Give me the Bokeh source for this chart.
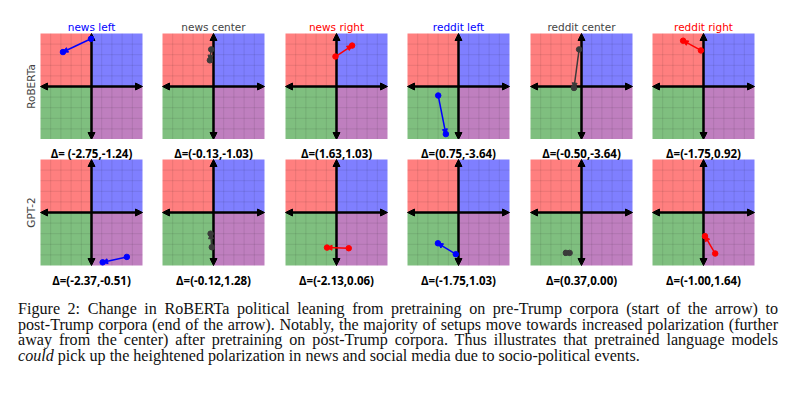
import math
from bokeh.plotting import figure
from bokeh.layouts import column, row
from bokeh.models import Arrow, NormalHead, Label, ColumnDataSource, Div
from bokeh.embed import file_html
from bokeh.resources import INLINE

# ---------------- data ----------------
setups = ["news left", "news center", "news right",
          "reddit left", "reddit center", "reddit right"]
models = ["RoBERTa", "GPT-2"]

# political compass position (economic x, social y), pre-Trump (start) -> post-Trump (end)
roberta_start_x = [-0.1, -0.45, -0.2, -3.98, -0.47, -0.5]
roberta_start_y = [9.0, 7.0, 5.66, -1.7, 7.0, 6.8]
roberta_end_x = [-5.6, -0.71, 3.06, -2.48, -1.47, -4.0]
roberta_end_y = [6.5, 4.94, 7.72, -8.98, -0.28, 8.64]

gpt2_start_x = [6.93, -0.33, 2.4, -0.53, -3.07, 2.29]
gpt2_start_y = [-8.38, -6.55, -6.74, -7.87, -7.62, -7.74]
gpt2_end_x = [2.19, -0.57, -1.86, -4.03, -2.33, 0.29]
gpt2_end_y = [-9.4, -3.99, -6.62, -5.81, -7.62, -4.46]

roberta_delta = ["Δ= (-2.75,-1.24)", "Δ=(-0.13,-1.03)", "Δ=(1.63,1.03)",
                 "Δ=(0.75,-3.64)", "Δ=(-0.50,-3.64)", "Δ=(-1.75,0.92)"]
gpt2_delta = ["Δ=(-2.37,-0.51)", "Δ=(-0.12,1.28)", "Δ=(-2.13,0.06)",
              "Δ=(-1.75,1.03)", "Δ=(0.37,0.00)", "Δ=(-1.00,1.64)"]

caption_lines = [
    "Figure 2: Change in RoBERTa political leaning from pretraining on pre-Trump corpora (start of the arrow) to",
    "post-Trump corpora (end of the arrow). Notably, the majority of setups move towards increased polarization (further",
    "away from the center) after pretraining on post-Trump corpora. Thus illustrates that pretrained language models",
    "<i>could</i> pick up the heightened polarization in news and social media due to socio-political events.",
]

# ---------------- style ----------------
LIM = 10
grid_ticks = [-8, -6, -4, -2, 2, 4, 6, 8]
title_colors = ["#0000ff", "#444444", "#ff0000", "#0000ff", "#444444", "#ff0000"]
line_colors = ["#0000ff", "#3a3a3a", "#ff0000", "#0000ff", "#3a3a3a", "#ff0000"]
quad_colors = ["#ff0000", "#0000ff", "#008000", "#800080"]  # TL, TR, BL, BR

# compass box (102 x 106 px) and the empty space around it inside each cell
CW, CH = 102, 106
cell_pad_left = [40, 10, 11, 10, 11, 10]
cell_pad_right = 10
row_pad = [(33, 0), (20, 25)]  # (top, bottom) per row
PX_X = CW / (2 * LIM)
PX_Y = CH / (2 * LIM)

DELTA_STYLE = dict(text_align="center", text_baseline="alphabetic", text_font="Open Sans",
                   text_font_style="bold", text_font_size="11.5px", text_color="black")


def panel(i, r, sx, sy, ex, ey, delta, title=None, row_label=None, prev_delta=None):
    pl, pr = cell_pad_left[i], cell_pad_right
    pt, pb = row_pad[r]
    p = figure(width=CW + pl + pr, height=CH + pt + pb,
               x_range=(-LIM - pl / PX_X, LIM + pr / PX_X),
               y_range=(-LIM - pb / PX_Y, LIM + pt / PX_Y),
               x_axis_type=None, y_axis_type=None, toolbar_location=None,
               output_backend="svg", min_border=0, outline_line_color=None,
               background_fill_color="white", border_fill_color="white")
    # quadrants
    p.quad(left=[-LIM, 0, -LIM, 0], right=[0, LIM, 0, LIM],
           bottom=[0, 0, -LIM, -LIM], top=[LIM, LIM, 0, 0],
           fill_color=quad_colors, fill_alpha=0.5, line_color=None)
    # grid
    n = len(grid_ticks)
    p.segment(x0=grid_ticks, y0=[-LIM] * n, x1=grid_ticks, y1=[LIM] * n,
              line_color="black", line_alpha=0.09, line_width=1)
    p.segment(x0=[-LIM] * n, y0=grid_ticks, x1=[LIM] * n, y1=grid_ticks,
              line_color="black", line_alpha=0.09, line_width=1)
    # compass axes
    for (x0, y0, x1, y1) in [(-LIM, 0, LIM, 0), (0, -LIM, 0, LIM)]:
        p.add_layout(Arrow(x_start=x0, y_start=y0, x_end=x1, y_end=y1,
                           start=NormalHead(size=7, fill_color="black", line_color="black"),
                           end=NormalHead(size=7, fill_color="black", line_color="black"),
                           line_color="black", line_width=2.5))
    c = line_colors[i]
    src = ColumnDataSource(dict(sx=[sx], sy=[sy], ex=[ex], ey=[ey]))
    p.add_layout(Arrow(x_start="sx", y_start="sy", x_end="ex", y_end="ey", source=src,
                       end=NormalHead(size=5, fill_color=c, line_color=c, line_width=1),
                       line_color=c, line_width=1.5))
    sc = p.scatter(x=[sx, ex], y=[sy, ey], size=5.5, color=c)
    sc.level = "overlay"
    if title is not None:
        p.add_layout(Label(x=0, y=LIM, y_offset=6.8, text=title, text_align="center",
                           text_baseline="alphabetic", text_font="DejaVu Sans",
                           text_font_size="10.5px", text_color=title_colors[i]))
    if row_label is not None:
        p.add_layout(Label(x=-LIM, y=0, x_offset=-9.5, text=row_label, angle=math.pi / 2,
                           text_align="center", text_baseline="middle",
                           text_font="DejaVu Sans", text_font_size="10.5px",
                           text_color="#444444"))
    if prev_delta is not None:
        # delta caption of the panel above (sits in the gap between the rows)
        p.add_layout(Label(x=0, y=LIM, y_offset=5.7, text=prev_delta, **DELTA_STYLE))
    if delta is not None:
        p.add_layout(Label(x=0, y=-LIM, y_offset=-14.5, text=delta, **DELTA_STYLE))
    return p


row1 = [panel(i, 0, roberta_start_x[i], roberta_start_y[i], roberta_end_x[i], roberta_end_y[i],
              None, title=setups[i],
              row_label=models[0] if i == 0 else None) for i in range(6)]
row2 = [panel(i, 1, gpt2_start_x[i], gpt2_start_y[i], gpt2_end_x[i], gpt2_end_y[i],
              gpt2_delta[i], row_label=models[1] if i == 0 else None,
              prev_delta=roberta_delta[i]) for i in range(6)]

html = ""
for k, line in enumerate(caption_lines):
    last = k == len(caption_lines) - 1
    align = "text-align:left;" if last else "text-align:justify;text-align-last:justify;"
    html += f'<div style="{align}">{line}</div>'
html = ('<div style="font-family:\'Liberation Serif\',serif;font-size:16.1px;'
        'line-height:15.7px;color:#111;width:760px;">' + html + '</div>')
cap = Div(text=html, width=760, height=64, margin=(11, 0, 0, 18))

layout = column(row(*row1, spacing=0), row(*row2, spacing=0), cap, spacing=0)

open("out.html", "w").write(file_html(layout, INLINE))
